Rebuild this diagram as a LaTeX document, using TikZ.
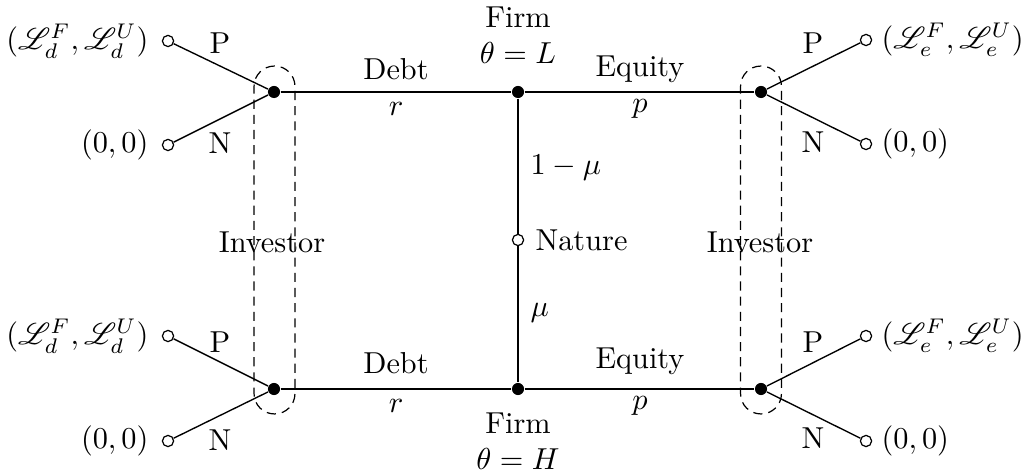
\documentclass[tikz,border=0pt]{standalone}
\usepackage{amsmath}
\usepackage{mathrsfs}
\begin{document}
\begin{tikzpicture}[x=0.33pt,y=-0.33pt,
  dec/.style={circle,fill,inner sep=0pt,minimum size=4pt},
  term/.style={circle,draw,fill=white,inner sep=0pt,minimum size=3.7pt},
  info/.style={draw,dashed,dash pattern=on 3pt off 2pt,rounded corners=6.7pt,minimum width=13.5pt,minimum height=114.8pt,inner sep=0pt},
  lab/.style={inner sep=0pt},
  edge/.style={line width=0.45pt}]
\useasboundingbox (0,0) rectangle (1029,476);
% information sets
\node[info] (infoL) at (274.5,240) {};
\node[info] (infoR) at (761,240) {};
% decision nodes
\node[dec] (F1) at (518,92) {};
\node[dec] (F2) at (518,389) {};
\node[term] (Nat) at (518,240) {};
\node[dec] (IL1) at (274,92) {};
\node[dec] (IL2) at (274,389) {};
\node[dec] (IR1) at (761,92) {};
\node[dec] (IR2) at (761,389) {};
% terminal nodes
\node[term] (tl1p) at (168,41) {};
\node[term] (tl1n) at (168,145) {};
\node[term] (tl2p) at (168,336) {};
\node[term] (tl2n) at (168,441) {};
\node[term] (tr1p) at (866,40) {};
\node[term] (tr1n) at (866,144) {};
\node[term] (tr2p) at (866,336) {};
\node[term] (tr2n) at (866,441) {};
% edges
\draw[edge] (IL1) -- (F1);
\draw[edge] (F1) -- (IR1);
\draw[edge] (IL2) -- (F2);
\draw[edge] (F2) -- (IR2);
\draw[edge] (F1) -- (Nat);
\draw[edge] (Nat) -- (F2);
\draw[edge] (IL1) -- (tl1p);
\draw[edge] (IL1) -- (tl1n);
\draw[edge] (IL2) -- (tl2p);
\draw[edge] (IL2) -- (tl2n);
\draw[edge] (IR1) -- (tr1p);
\draw[edge] (IR1) -- (tr1n);
\draw[edge] (IR2) -- (tr2p);
\draw[edge] (IR2) -- (tr2n);
% payoffs
\node[lab,anchor=east] (pl1p) at (149,41) {$(\mathscr{L}_d^F,\mathscr{L}_d^U)$};
\node[lab,anchor=east] (pl1n) at (149,145) {$(0,0)$};
\node[lab,anchor=east] (pl2p) at (149,336) {$(\mathscr{L}_d^F,\mathscr{L}_d^U)$};
\node[lab,anchor=east] (pl2n) at (149,441) {$(0,0)$};
\node[lab,anchor=west] (pr1p) at (881,40) {$(\mathscr{L}_e^F,\mathscr{L}_e^U)$};
\node[lab,anchor=west] (pr1n) at (881,144) {$(0,0)$};
\node[lab,anchor=west] (pr2p) at (881,336) {$(\mathscr{L}_e^F,\mathscr{L}_e^U)$};
\node[lab,anchor=west] (pr2n) at (881,441) {$(0,0)$};
% action labels
\node[lab] (a1) at (220,43) {P};
\node[lab] (a2) at (220,143) {N};
\node[lab] (a3) at (220,342) {P};
\node[lab] (a4) at (220,440) {N};
\node[lab] (a5) at (813,43) {P};
\node[lab] (a6) at (813,142) {N};
\node[lab] (a7) at (813,342) {P};
\node[lab] (a8) at (813,438) {N};
\node[lab] (d1) at (396,69) {Debt};
\node[lab] (r1) at (396,109) {$r$};
\node[lab] (d2) at (396,363) {Debt};
\node[lab] (r2) at (396,406) {$r$};
\node[lab] (e1) at (640,69) {Equity};
\node[lab] (p1) at (640,109) {$p$};
\node[lab] (e2) at (640,361) {Equity};
\node[lab] (p2) at (640,406) {$p$};
\node[lab,anchor=west] (m1) at (530,168) {$1-\mu$};
\node[lab,anchor=west] (m2) at (530,313) {$\mu$};
\node[lab,anchor=west] (natl) at (535,240) {Nature};
\node[lab,align=center] (fl1) at (518,35) {Firm\\$\theta=L$};
\node[lab,align=center] (fl2) at (518,441) {Firm\\$\theta=H$};
\node[lab] (invL) at (272,242) {Investor};
\node[lab] (invR) at (760,242) {Investor};
\end{tikzpicture}
\end{document}
